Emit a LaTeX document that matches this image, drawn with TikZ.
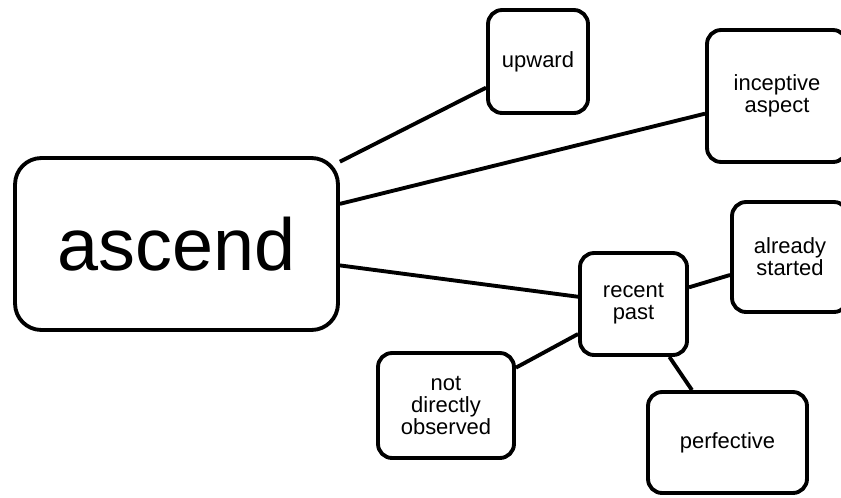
\documentclass[tikz,border=0pt]{standalone}
\usepackage{fontspec}
\setmainfont{Liberation Sans}
\tikzset{
  concept/.style={draw, line width=2.2pt, rounded corners=8pt, align=center,
    inner sep=0pt, font=\fontsize{12.5}{12.5}\selectfont},
  link/.style={line width=2.2pt},
}
\begin{document}
\begin{tikzpicture}[x=0.02cm, y=-0.02cm]
    \useasboundingbox (0,0) rectangle (841,497);
    % main word
    \node[concept, rounded corners=15pt, minimum width=6.46cm, minimum height=3.44cm,
      font=\fontsize{42}{42}\selectfont] (ascend) at (176.5,244) {ascend};
    % senses
    \node[concept, minimum width=2.0cm, minimum height=2.06cm] (upward) at (538,61.5) {upward};
    \node[concept, minimum width=2.8cm, minimum height=2.64cm] (inceptive) at (777,96) {inceptive\\aspect};
    \node[concept, minimum width=2.14cm, minimum height=2.04cm] (recent) at (633.5,304) {recent\\past};
    \node[concept, minimum width=2.32cm, minimum height=2.2cm] (started) at (790,257) {already\\started};
    \node[concept, minimum width=2.72cm, minimum height=2.1cm] (observed) at (446,405.5) {not\\directly\\observed};
    \node[concept, minimum width=3.18cm, minimum height=2.02cm] (perfective) at (727.5,442.5) {perfective};
    % links
    \draw[link] (ascend) -- (upward);
    \draw[link] (ascend) -- (inceptive);
    \draw[link] (ascend) -- (recent);
    \draw[link] (recent) -- (started);
    \draw[link] (recent) -- (observed);
    \draw[link] (recent) -- (perfective);
\end{tikzpicture}
\end{document}
